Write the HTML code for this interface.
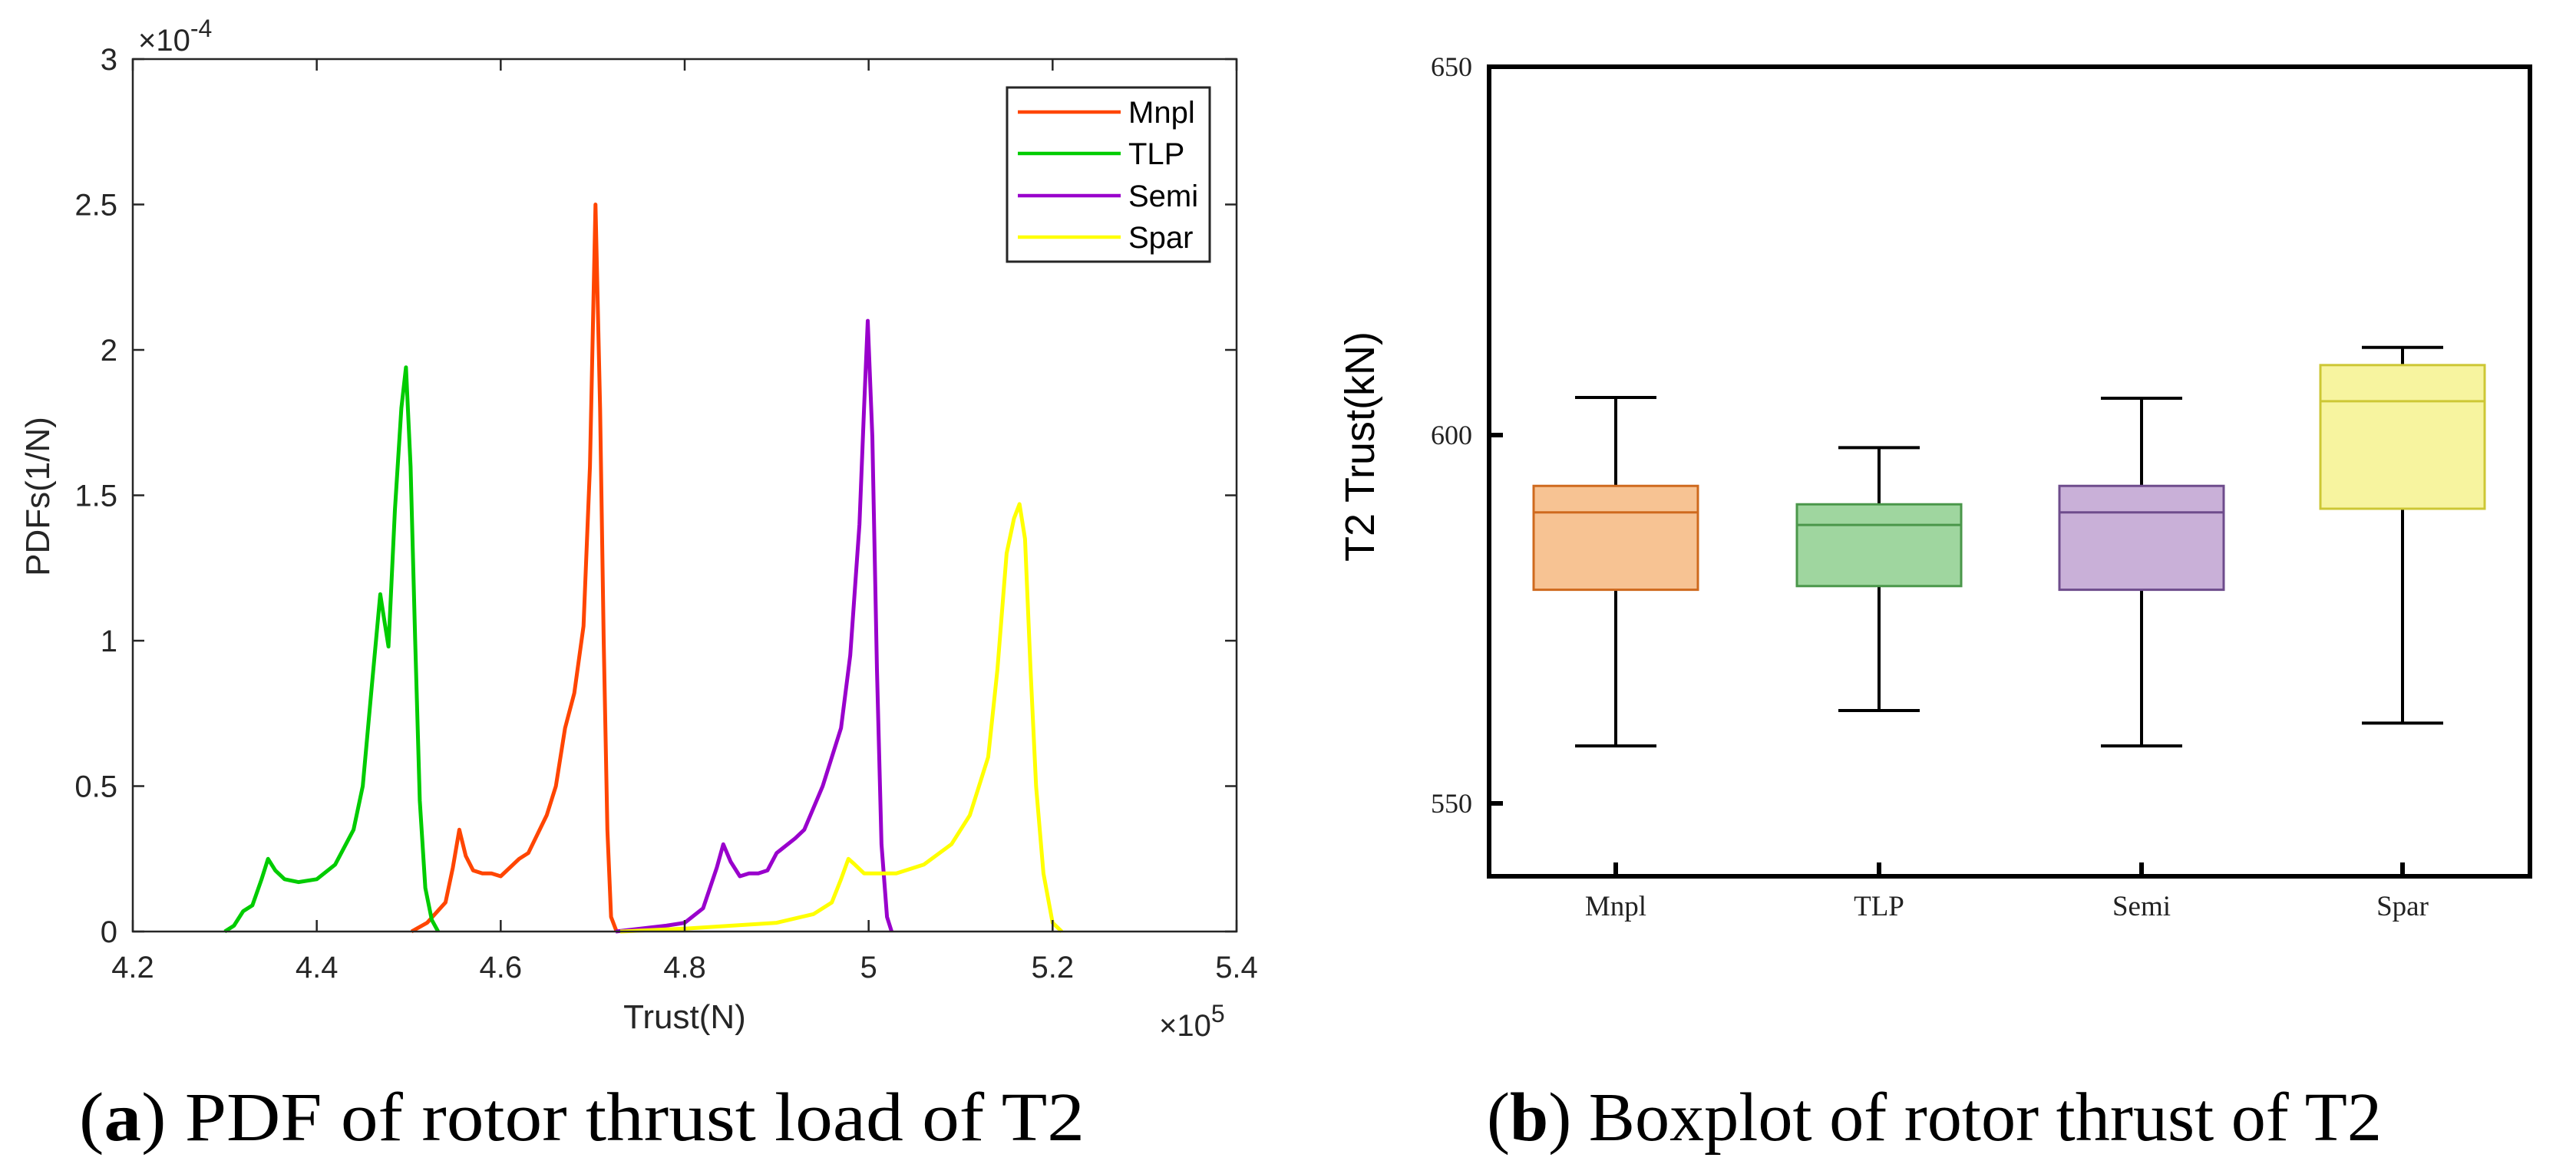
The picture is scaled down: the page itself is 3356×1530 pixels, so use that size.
<!DOCTYPE html>
<html><head><meta charset="utf-8"><style>
html,body{margin:0;padding:0;background:#fff;}
svg{display:block;}
</style></head><body>
<svg id="fig" width="3356" height="1530" viewBox="0 0 3356 1530" xmlns="http://www.w3.org/2000/svg">
<g id="left"></g>
<g id="right"></g>
<text x="103" y="1486" font-family="Liberation Serif, serif" font-size="90" textLength="1310" lengthAdjust="spacingAndGlyphs" fill="#000">(<tspan font-weight="bold">a</tspan>) PDF of rotor thrust load of T2</text>
<text x="1937" y="1486" font-family="Liberation Serif, serif" font-size="90" textLength="1166" lengthAdjust="spacingAndGlyphs" fill="#000">(<tspan font-weight="bold">b</tspan>) Boxplot of rotor thrust of T2</text>
</svg>
<script>
// ---- PDF chart data (x in 1e5 N, y in 1e-4 1/N)
const pdfXTicks = [4.2,4.4,4.6,4.8,5,5.2,5.4];
const pdfXTickLabels = ["4.2","4.4","4.6","4.8","5","5.2","5.4"];
const pdfYTicks = [0,0.5,1,1.5,2,2.5,3];
const pdfYTickLabels = ["0","0.5","1","1.5","2","2.5","3"];
const seriesNames = ["Mnpl","TLP","Semi","Spar"];
const seriesColors = ["#ff4500","#00cc00","#9900cc","#ffff00"];
const tlpX = [4.300,4.31,4.32,4.33,4.34,4.347,4.355,4.365,4.38,4.40,4.42,4.44,4.45,4.46,4.469,4.474,4.478,4.485,4.492,4.497,4.502,4.507,4.512,4.518,4.525,4.532];
const tlpY = [0,0.02,0.07,0.09,0.18,0.25,0.21,0.18,0.17,0.18,0.23,0.35,0.5,0.85,1.16,1.06,0.98,1.45,1.8,1.94,1.6,1.0,0.45,0.15,0.04,0];
const mnplX = [4.503,4.52,4.54,4.548,4.555,4.562,4.57,4.58,4.59,4.60,4.62,4.63,4.65,4.66,4.67,4.68,4.69,4.697,4.703,4.708,4.712,4.716,4.72,4.726];
const mnplY = [0,0.03,0.1,0.22,0.35,0.26,0.21,0.2,0.2,0.19,0.25,0.27,0.4,0.5,0.7,0.82,1.05,1.6,2.5,1.8,1.0,0.35,0.05,0];
const semiX = [4.725,4.78,4.80,4.82,4.835,4.842,4.85,4.86,4.87,4.88,4.89,4.90,4.92,4.93,4.95,4.97,4.98,4.99,4.995,4.999,5.004,5.009,5.014,5.02,5.025];
const semiY = [0,0.02,0.03,0.08,0.22,0.3,0.24,0.19,0.2,0.2,0.21,0.27,0.32,0.35,0.5,0.7,0.95,1.4,1.8,2.1,1.7,0.9,0.3,0.05,0];
const sparX = [4.73,4.80,4.90,4.94,4.96,4.97,4.978,4.985,4.995,5.01,5.03,5.06,5.09,5.11,5.13,5.14,5.15,5.158,5.164,5.17,5.176,5.182,5.19,5.20,5.21];
const sparY = [0,0.01,0.03,0.06,0.1,0.18,0.25,0.23,0.2,0.2,0.2,0.23,0.3,0.4,0.6,0.9,1.3,1.42,1.47,1.35,0.9,0.5,0.2,0.03,0];
const seriesX = [mnplX,tlpX,semiX,sparX];
const seriesY = [mnplY,tlpY,semiY,sparY];

// ---- Boxplot data (kN)
const boxCats = ["Mnpl","TLP","Semi","Spar"];
const boxMax = [605.1,598.3,605.0,611.9];
const boxQ3 = [593.1,590.6,593.1,609.5];
const boxMed = [589.5,587.8,589.5,604.6];
const boxQ1 = [579.0,579.5,579.0,590.0];
const boxMin = [557.8,562.6,557.8,560.9];
const boxYTicks = [550,600,650];
const boxYTickLabels = ["550","600","650"];
const boxFill = ["#f7c393","#9fd69f","#c9b0d8","#f7f49f"];
const boxStroke = ["#cf6a1e","#4a974a","#6e4c8c","#cdc735"];

const NS="http://www.w3.org/2000/svg";
function mk(parent,tag,attrs,text){const e=document.createElementNS(NS,tag);for(const k in attrs)e.setAttribute(k,attrs[k]);if(text!==undefined)e.textContent=text;parent.appendChild(e);return e;}

// Left chart
const L=document.getElementById('left');
const pl=173,pr=1611,pt=77,pb=1214;
const sx=v=>pl+(v-4.2)/(5.4-4.2)*(pr-pl);
const sy=v=>pb-(v/3)*(pb-pt);
const axc="#262626";
seriesX.forEach((xs,i)=>{
  const d=xs.map((x,j)=>(j?'L':'M')+sx(x).toFixed(1)+' '+sy(seriesY[i][j]).toFixed(1)).join(' ');
  const p=mk(L,'path',{d:d,fill:'none',stroke:seriesColors[i],'stroke-width':5,'stroke-linejoin':'round'});
  
  
});
const frame=mk(L,'rect',{x:pl,y:pt,width:pr-pl,height:pb-pt,fill:'none',stroke:axc,'stroke-width':2.5});


pdfXTicks.forEach((v,i)=>{
  const x=sx(v);
  mk(L,'line',{x1:x,y1:pb,x2:x,y2:pb-15,stroke:axc,'stroke-width':2.5});
  mk(L,'line',{x1:x,y1:pt,x2:x,y2:pt+15,stroke:axc,'stroke-width':2.5});
  const t=mk(L,'text',{x:x,y:pb+60,'text-anchor':'middle','font-family':'Liberation Sans, sans-serif','font-size':40,fill:axc},pdfXTickLabels[i]);
  
  
});
pdfYTicks.forEach((v,i)=>{
  const y=sy(v);
  mk(L,'line',{x1:pl,y1:y,x2:pl+15,y2:y,stroke:axc,'stroke-width':2.5});
  mk(L,'line',{x1:pr,y1:y,x2:pr-15,y2:y,stroke:axc,'stroke-width':2.5});
  const t=mk(L,'text',{x:pl-20,y:y+14,'text-anchor':'end','font-family':'Liberation Sans, sans-serif','font-size':40,fill:axc},pdfYTickLabels[i]);
  
  
});
let t1=mk(L,'text',{x:180,y:66,'font-family':'Liberation Sans, sans-serif','font-size':40,fill:axc},'×10');
mk(t1,'tspan',{dy:-18,'font-size':32},'-4');


let t2=mk(L,'text',{x:1510,y:1350,'font-family':'Liberation Sans, sans-serif','font-size':40,fill:axc},'×10');
mk(t2,'tspan',{dy:-18,'font-size':32},'5');


let xt=mk(L,'text',{x:892,y:1340,'text-anchor':'middle','font-family':'Liberation Sans, sans-serif','font-size':44,fill:axc},'Trust(N)');


let yt=mk(L,'text',{x:0,y:0,transform:'translate(64,647) rotate(-90)','text-anchor':'middle','font-family':'Liberation Sans, sans-serif','font-size':44,fill:axc},'PDFs(1/N)');


// legend
const lg=mk(L,'g',{});


mk(lg,'rect',{x:1312,y:114,width:264,height:227,fill:'#fff',stroke:axc,'stroke-width':3});
const lgY=[146,200,255,309];
seriesNames.forEach((n,i)=>{
  const g=mk(lg,'g',{});
  
  
  mk(g,'line',{x1:1326,y1:lgY[i],x2:1460,y2:lgY[i],stroke:seriesColors[i],'stroke-width':4.5});
  mk(g,'text',{x:1470,y:lgY[i]+14,'font-family':'Liberation Sans, sans-serif','font-size':40,fill:'#000'},n);
});

// Right chart
const R=document.getElementById('right');
const bl=1940,br=3296,bt=87,bb=1142;
const by=v=>1047-(v-550)/100*(1047-87);
const cx=[2105,2448,2790,3130];
const bw=214,cw=106;
boxCats.forEach((c,i)=>{
  const g=mk(R,'g',{});
  
  
  const x=cx[i];
  mk(g,'line',{x1:x,y1:by(boxMax[i]),x2:x,y2:by(boxQ3[i]),stroke:'#000','stroke-width':4});
  mk(g,'line',{x1:x,y1:by(boxQ1[i]),x2:x,y2:by(boxMin[i]),stroke:'#000','stroke-width':4});
  mk(g,'line',{x1:x-cw/2,y1:by(boxMax[i]),x2:x+cw/2,y2:by(boxMax[i]),stroke:'#000','stroke-width':4});
  mk(g,'line',{x1:x-cw/2,y1:by(boxMin[i]),x2:x+cw/2,y2:by(boxMin[i]),stroke:'#000','stroke-width':4});
  mk(g,'rect',{x:x-bw/2,y:by(boxQ3[i]),width:bw,height:by(boxQ1[i])-by(boxQ3[i]),fill:boxFill[i],stroke:boxStroke[i],'stroke-width':3});
  mk(g,'line',{x1:x-bw/2,y1:by(boxMed[i]),x2:x+bw/2,y2:by(boxMed[i]),stroke:boxStroke[i],'stroke-width':3});
  mk(R,'line',{x1:x,y1:bb,x2:x,y2:bb-18,stroke:'#000','stroke-width':6});
  const t=mk(R,'text',{x:x,y:1193,'text-anchor':'middle','font-family':'Liberation Serif, serif','font-size':37,fill:'#222'},c);
  
  
});
const bf=mk(R,'rect',{x:bl,y:bt,width:br-bl,height:bb-bt,fill:'none',stroke:'#000','stroke-width':6});


boxYTicks.forEach((v,i)=>{
  const y=by(v);
  mk(R,'line',{x1:bl,y1:y,x2:bl+18,y2:y,stroke:'#000','stroke-width':6});
  const t=mk(R,'text',{x:1918,y:y+12,'text-anchor':'end','font-family':'Liberation Serif, serif','font-size':36,fill:'#222'},boxYTickLabels[i]);
  
  
});
let byt=mk(R,'text',{x:0,y:0,transform:'translate(1790,582) rotate(-90)','text-anchor':'middle','font-family':'Liberation Sans, sans-serif','font-size':54,fill:'#000'},'T2 Trust(kN)');


</script>
</body></html>
